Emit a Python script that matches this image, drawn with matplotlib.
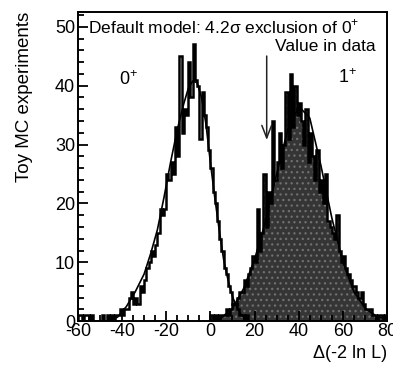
import numpy as np
import matplotlib.pyplot as plt
from matplotlib.ticker import MultipleLocator

plt.rcParams['font.family'] = ['Liberation Sans', 'DejaVu Sans']
plt.rcParams['mathtext.fontset'] = 'custom'
plt.rcParams['mathtext.rm'] = 'Liberation Sans'
plt.rcParams['axes.unicode_minus'] = False
plt.rcParams['hatch.linewidth'] = 0.9

# toy MC counts for the 0+ hypothesis, 1-unit bins starting at -60
counts_0 = [1, 1, 0, 1, 1, 0, 1, 0, 0, 0, 0, 1, 0, 1, 0, 1, 0, 1, 1, 2,
            1, 2, 2, 4, 5, 3, 4, 3, 6, 5, 7, 9, 10, 12, 11, 13, 15, 19, 18, 19,
            25, 24, 27, 25, 33, 28, 45, 32, 36, 35, 44, 38, 47, 41, 40, 31, 39, 35, 33, 29,
            26, 22, 20, 17, 14, 12, 9, 8, 6, 5, 3, 3, 2, 1, 1, 0, 1]
start_0 = -60

# toy MC counts for the 1+ hypothesis, 1-unit bins starting at 0
counts_1 = [1, 0, 1, 0, 1, 1, 1, 2, 1, 2, 3, 3, 4, 5, 5, 7, 6, 8, 9, 11,
            10, 19, 12, 15, 25, 16, 22, 20, 34, 24, 27, 32, 26, 30, 39, 31, 42, 33, 40, 35,
            37, 34, 30, 36, 27, 32, 28, 24, 29, 22, 24, 20, 25, 17, 16, 15, 14, 18, 12, 10,
            11, 9, 8, 7, 6, 6, 5, 4, 5, 3, 2, 2, 2, 1, 1, 0, 1, 1, 0, 1]
start_1 = 0

# fitted shapes
fit0_x = [-46, -42, -38, -34, -30, -27, -24, -21, -18, -15, -12, -10, -8, -6, -4, -2, 0, 2, 4, 6, 8, 10, 12, 14, 16, 18]
fit0_y = [0, 0.7, 2.5, 5, 8, 11.5, 15.5, 21, 27, 32.5, 37, 39.5, 40.8, 40.5, 38, 33.5, 27, 21, 15.5, 10.5, 7, 4.2, 2.3, 1.1, 0.4, 0]
fit1_x = [0, 5, 10, 15, 20, 25, 30, 35, 40, 45, 50, 55, 60, 65, 70, 75, 80]
fit1_y = [0, 0.6, 2.2, 5.5, 10.5, 17, 25, 32.5, 36.5, 34.5, 26.5, 17.5, 10, 5, 2.2, 0.9, 0.3]

data_value = 25.5

fig = plt.figure(figsize=(3.93, 3.65), dpi=100)
ax = fig.add_axes([0.198, 0.12, 0.787, 0.847])

edges_0 = np.arange(start_0, start_0 + len(counts_0) + 1)
edges_1 = np.arange(start_1, start_1 + len(counts_1) + 1)

ax.stairs(counts_1, edges_1, fill=True, facecolor='#353535', edgecolor='#707070',
          hatch='...', linewidth=0, zorder=1)
ax.stairs(counts_1, edges_1, color='black', linewidth=1.8, zorder=2)
ax.stairs(counts_0, edges_0, color='black', linewidth=1.8, zorder=2)
ax.plot(fit0_x, fit0_y, color='black', linewidth=1.2, zorder=3)
ax.plot(fit1_x, fit1_y, color='black', linewidth=1.2, zorder=3)

ax.annotate('', xy=(data_value, 30.3), xytext=(data_value, 45.5),
            arrowprops=dict(arrowstyle='->,head_length=0.9,head_width=0.35',
                            color='#222222', lw=1.1))

ax.text(-55.5, 50.0, 'Default model: 4.2σ exclusion of 0$^{+}$', fontsize=12.5, va='center', ha='left')
ax.text(74.6, 46.6, 'Value in data', fontsize=12.5, va='center', ha='right')
ax.text(-37.3, 41, '0$^{+}$', fontsize=13, va='center', ha='center')
ax.text(62, 41.3, '1$^{+}$', fontsize=13, va='center', ha='center')

ax.set_xlim(-60, 80)
ax.set_ylim(0, 52.5)
ax.xaxis.set_major_locator(MultipleLocator(20))
ax.xaxis.set_minor_locator(MultipleLocator(5))
ax.yaxis.set_major_locator(MultipleLocator(10))
ax.yaxis.set_minor_locator(MultipleLocator(2))
ax.tick_params(which='both', direction='in', top=False, right=False, labelsize=13, width=1.3)
ax.tick_params(which='major', length=7)
ax.tick_params(which='minor', length=4)
ax.tick_params(axis='x', pad=1)
ax.tick_params(axis='y', pad=2)
for s in ax.spines.values():
    s.set_linewidth(1.4)

ax.set_ylabel('Toy MC experiments', fontsize=13.5, loc='top', labelpad=16)
ax.set_xlabel('Δ(-2 ln L)', fontsize=13, loc='right', labelpad=4)

fig.savefig('out.png', dpi=100)
